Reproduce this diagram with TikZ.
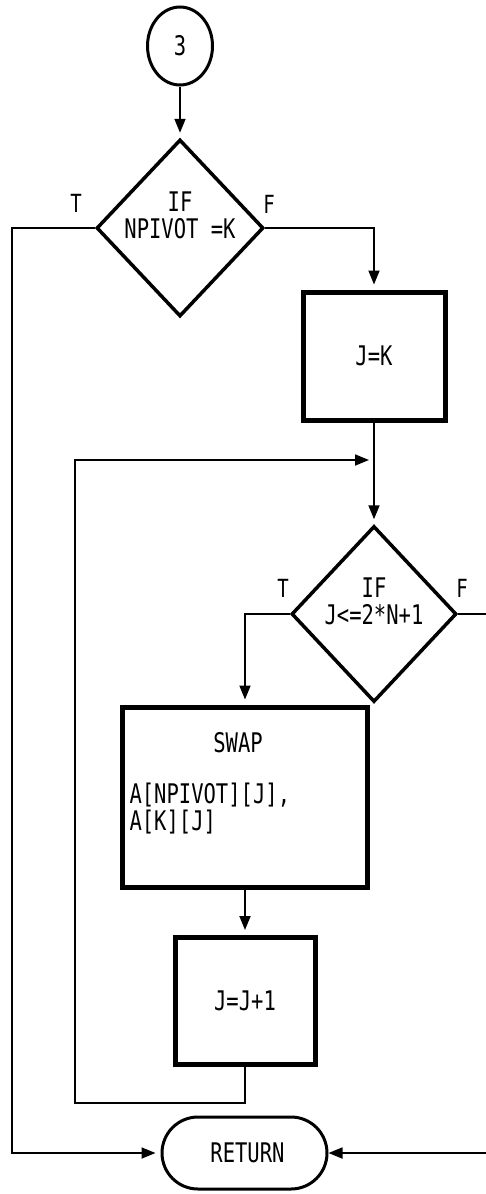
\documentclass[tikz,border=0pt]{standalone}
\usepackage{fontspec}
\newfontfamily\pixfont[FakeStretch=0.76]{DejaVu Sans Mono}
\usetikzlibrary{shapes.geometric,shapes.misc,arrows.meta}
\begin{document}
\begin{tikzpicture}[x=1pt,y=-1pt,
  every node/.style={font=\pixfont\fontsize{27}{27}\selectfont, inner sep=0pt},
  conn/.style={line width=1.8pt},
  arr/.style={conn,-{Triangle[length=14pt,width=11pt]},shorten >=5pt},
  procbox/.style={draw,line width=5pt,rectangle},
  decision/.style={draw,line width=3.5pt,diamond},
  lbl/.style={font=\pixfont\fontsize{25}{25}\selectfont}
]
\useasboundingbox (0,0) rectangle (486,1194);

% shapes
\node[draw,ellipse,line width=3pt,minimum width=65pt,minimum height=78pt] (c3) at (180,46) {3};
\node[decision,minimum width=167pt,minimum height=177pt] (d1) at (180,228) {};
\node[align=center] (d1t) at (180,215) {IF\\NPIVOT =K};
\node[procbox,minimum width=142pt,minimum height=128pt] (jk) at (374,356) {J=K};
\node[decision,minimum width=165pt,minimum height=176pt] (d2) at (374,614) {};
\node[align=center] (d2t) at (374,601) {IF\\J<=2*N+1};
\node[procbox,minimum width=245pt,minimum height=180pt] (swap) at (245,797) {};
\node (swapt) at (238,743) {SWAP};
\node[align=left] (swapa) at (216,809) {A[NPIVOT][J],\\A[K][J]\phantom{[NPIVO]}};
\node[procbox,minimum width=140pt,minimum height=127pt] (jj) at (245,1001) {J=J+1};
\node[draw,rounded rectangle,line width=3pt,minimum width=165pt,minimum height=72pt] (ret) at (244.5,1153) {\hspace*{6pt}RETURN};

% labels
\node[lbl] (t1) at (76,203) {T};
\node[lbl] (f1) at (269,204) {F};
\node[lbl] (t2) at (283,588) {T};
\node[lbl] (f2) at (462,588) {F};

% coordinates
\coordinate (edgeF) at (486,614);
\coordinate (edgeR) at (486,1153);
\coordinate (loopin) at (374,460);

% connectors
\draw[arr] (c3.south) -- (d1.north);
\draw[arr] (d1.west) -- (12,228) |- (ret.west);
\draw[arr] (d1.east) -| (jk.north);
\draw[arr] (jk.south) -- (d2.north);
\draw[arr] (jj.south) -- (245,1103) -| (75,460) -- (loopin);
\draw[arr] (d2.west) -| (swap.north);
\draw[arr] (swap.south) -- (jj.north);
\draw[conn] (d2.east) -- (edgeF);
\draw[arr,shorten >=0pt] (edgeR) -- (ret.east);
\end{tikzpicture}
\end{document}
